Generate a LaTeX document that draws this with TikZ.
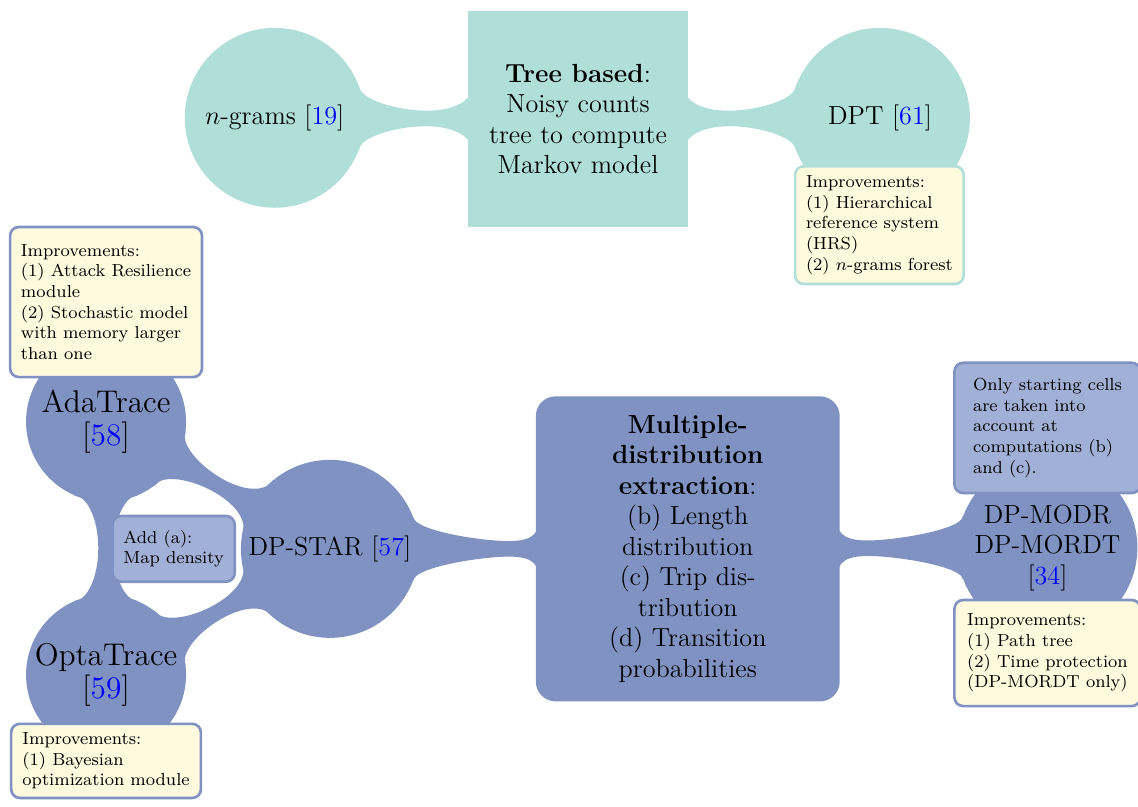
\documentclass[tikz,border=0pt]{standalone}
\usepackage{amsmath}
\usepackage{tikz}
\usetikzlibrary{calc}

\definecolor{treeteal}{RGB}{176,223,218}
\definecolor{distblue}{RGB}{127,146,194}
\definecolor{noteblue}{RGB}{161,176,214}
\definecolor{noteyellow}{RGB}{255,249,222}

\newcommand{\refnum}[1]{[\textcolor{blue}{#1}]}

\tikzset{
  blob/.style={circle, fill=#1, inner sep=0pt, align=center, font=\large},
  notebox/.style={draw=#1, line width=1.2pt, rounded corners=4pt, align=left,
    font=\footnotesize, inner xsep=5pt, inner ysep=4pt},
  % bar with flared ends between two nodes
  flarebar/.style={to path={
    let \p1=(\tikztostart.center), \p2=(\tikztotarget.center),
        \p4=(\tikztostart.east), \p5=(\tikztotarget.east),
        \n1={atan2(\y2-\y1,\x2-\x1)}, \p3=($(\p1)!0.5!(\p2)$),
        \n2={asin(min(0.9,14.7/veclen(\x4-\x1,\y4-\y1)))},
        \n3={asin(min(0.9,14.7/veclen(\x5-\x2,\y5-\y2)))} in
    ($(\tikztostart.center)!1!\n1+\n2:(\tikztostart.east)$)
    .. controls +(\n1-90:0.22) and ($(\p3)+(\n1+90:0.125)+(\n1+180:0.45)$)
    .. ($(\p3)+(\n1+90:0.125)$)
    .. controls +(\n1:0.45) and ($(\tikztotarget.center)!1!\n1+180-\n3:(\tikztotarget.east)+(\n1-90:0.22)$)
    .. ($(\tikztotarget.center)!1!\n1+180-\n3:(\tikztotarget.east)$)
    -- ($(\tikztotarget.center)!1!\n1+180+\n3:(\tikztotarget.east)$)
    .. controls +(\n1+90:0.22) and ($(\p3)+(\n1-90:0.125)+(\n1:0.45)$)
    .. ($(\p3)+(\n1-90:0.125)$)
    .. controls +(\n1+180:0.45) and ($(\tikztostart.center)!1!\n1-\n2:(\tikztostart.east)+(\n1+90:0.22)$)
    .. ($(\tikztostart.center)!1!\n1-\n2:(\tikztostart.east)$)
    -- cycle}},
}

\begin{document}
\begin{tikzpicture}
  \useasboundingbox (0,0) rectangle (18.35,-13.01);

  % tree based branch
  \node[blob=treeteal, minimum size=2.9cm] (ngrams) at (4.43,-1.90) {$n$-grams \refnum{19}};
  \node[rectangle, fill=treeteal, minimum width=3.55cm, minimum height=3.48cm,
    align=center, font=\large] (tree) at (9.32,-1.92)
    {\textbf{Tree based}:\\Noisy counts\\tree to compute\\Markov model};
  \node[blob=treeteal, minimum size=2.9cm] (dpt) at (14.19,-1.90) {DPT \refnum{61}};

  \fill[treeteal] (ngrams) to[flarebar] (tree);
  \fill[treeteal] (tree) to[flarebar] (dpt);

  % multiple distribution branch
  \node[blob=distblue, minimum size=2.58cm, font={\fontsize{14.4}{15}\selectfont}] (ada) at (1.71,-6.80) {AdaTrace\\{}\refnum{58}};
  \node[blob=distblue, minimum size=2.58cm, font={\fontsize{14.4}{15}\selectfont}] (opta) at (1.71,-10.88) {OptaTrace\\{}\refnum{59}};
  \node[blob=distblue, minimum size=2.87cm] (dpstar) at (5.32,-8.85) {DP-STAR \refnum{57}};
  \node[rectangle, fill=distblue, rounded corners=0.32cm, minimum width=4.9cm,
    minimum height=4.92cm, align=center, font=\large] (multi) at (11.09,-8.85)
    {\textbf{Multiple-}\\\textbf{distribution}\\\textbf{extraction}:\\(b) Length\\distribution\\(c) Trip dis-\\tribution\\(d) Transition\\probabilities};
  \node[blob=distblue, minimum size=2.9cm] (modr) at (16.89,-8.83) {DP-MODR\\DP-MORDT\\{}\refnum{34}};

  \fill[distblue] (ada) to[flarebar] (opta);
  \fill[distblue] (ada) to[flarebar] (dpstar);
  \fill[distblue] (opta) to[flarebar] (dpstar);
  \fill[distblue] (dpstar) to[flarebar] (multi);
  \fill[distblue] (multi) to[flarebar] (modr);

  % notes
  \node[notebox=treeteal, fill=noteyellow, minimum width=2.63cm, minimum height=1.9cm]
    (dptnote) at (14.18,-3.63)
    {Improvements:\\(1) Hierarchical\\reference system\\(HRS)\\(2) $n$-grams forest};
  \node[notebox=distblue, fill=noteyellow, minimum width=3.06cm, minimum height=2.42cm]
    (adanote) at (1.71,-4.87)
    {Improvements:\\(1) Attack Resilience\\module\\(2) Stochastic model\\with memory larger\\than one};
  \node[notebox=distblue, fill=noteyellow, minimum width=3.06cm, anchor=north]
    (optanote) at (1.71,-11.65)
    {Improvements:\\(1) Bayesian\\optimization module};
  \node[notebox=distblue, fill=noteblue, minimum width=1.87cm, minimum height=1.06cm]
    (addnote) at (2.80,-8.85) {Add (a):\\Map density};
  \node[notebox=distblue, fill=noteblue, minimum width=3.0cm, minimum height=2.1cm]
    (modrtop) at (16.89,-6.90)
    {Only starting cells\\are taken into\\account at\\computations (b)\\and (c).};
  \node[notebox=distblue, fill=noteyellow, minimum width=3.0cm, minimum height=1.71cm]
    (modrbot) at (16.89,-10.53)
    {Improvements:\\(1) Path tree\\(2) Time protection\\(DP-MORDT only)};
\end{tikzpicture}
\end{document}
